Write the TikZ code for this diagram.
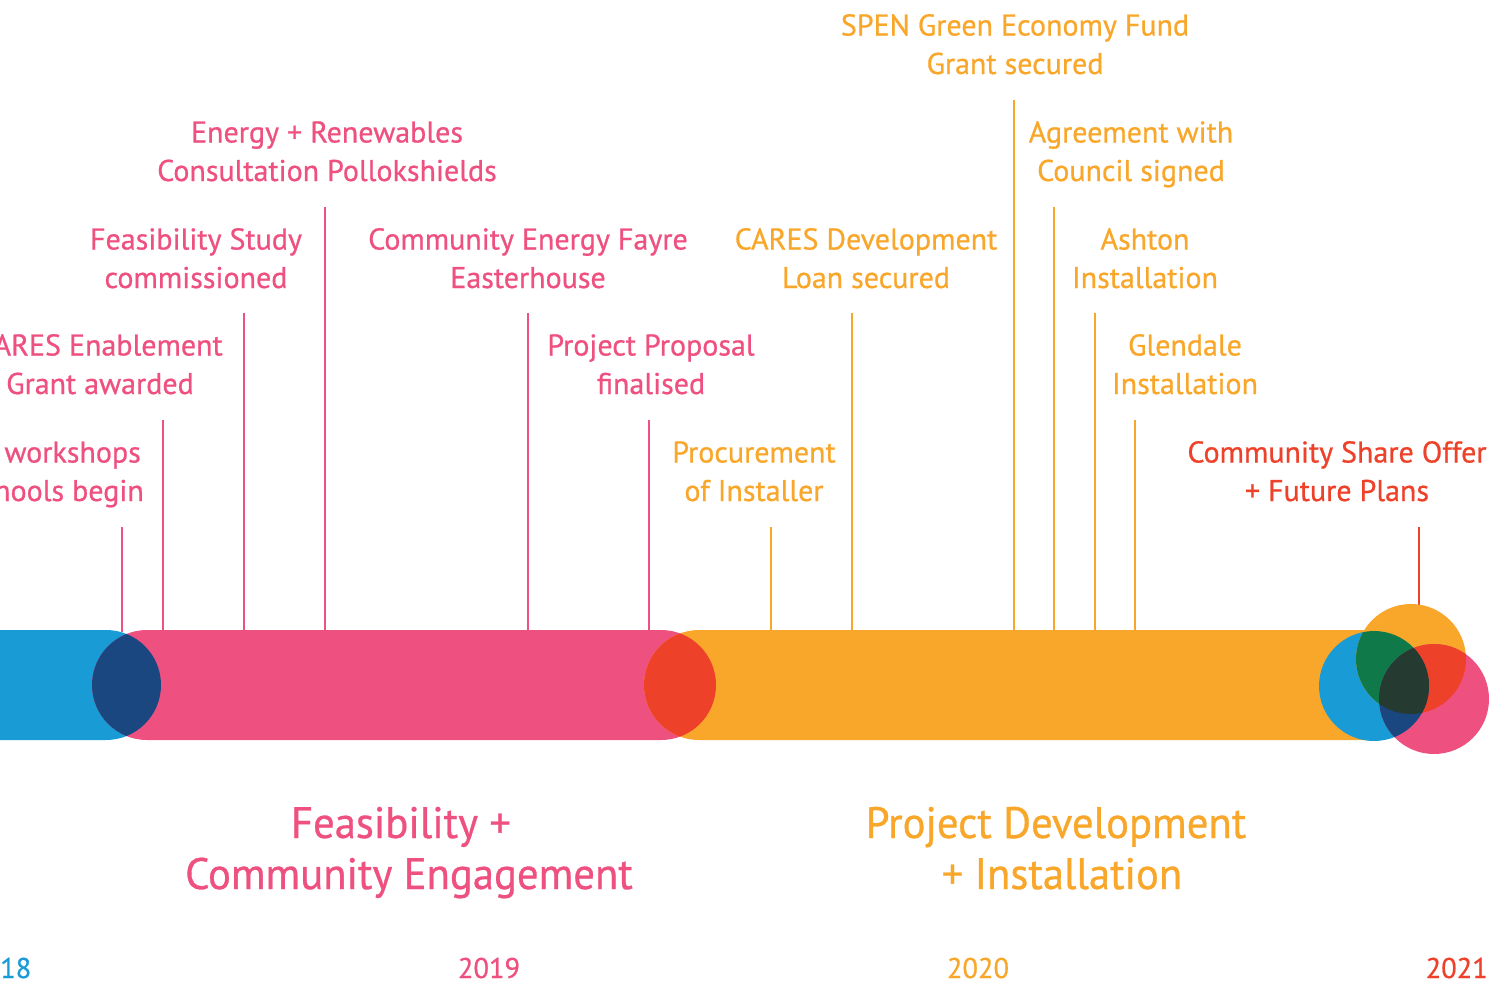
\documentclass[tikz,border=0pt]{standalone}
\usepackage{fontspec}
\setmainfont{PT Sans}
\newfontfamily\dinfont{PT Sans}[FakeBold=0.7]
\newfontfamily\dinbig{PT Sans}[FakeBold=0.7, FakeStretch=0.97]
\definecolor{cblue}{HTML}{199BD6}
\definecolor{cpink}{HTML}{EE5080}
\definecolor{corange}{HTML}{F9A72B}
\definecolor{cdblue}{HTML}{1A4780}
\definecolor{cred}{HTML}{EE4129}
\definecolor{cgreen}{HTML}{10794A}
\definecolor{cdark}{HTML}{253A31}
\tikzset{
  lbl/.style={anchor=base, inner sep=0pt, font=\dinfont\fontsize{30}{36}\selectfont},
  biglbl/.style={anchor=base, inner sep=0pt, font=\dinbig\fontsize{44}{52}\selectfont},
  yearlbl/.style={anchor=base, inner sep=0pt, font=\dinfont\fontsize{28.5}{34}\selectfont},
  stem/.style={line width=2.8pt},
}
\newcommand{\tlab}[6]{%
  \node[lbl, text=#4] (#1a) at (#2,#3) {#5};
  \node[lbl, text=#4] (#1b) at (#2,#3+38.5) {#6};
}
\begin{document}
\begin{tikzpicture}[x=1pt,y=-1pt]
\useasboundingbox (0,0) rectangle (1496,980);
% stems
\foreach \n/\x/\t/\c in {s1/122/527/cpink, s2/163/420/cpink, s3/244/313/cpink, s4/325/207/cpink,
  s5/528/313/cpink, s6/649/420/cpink, s7/771/527/corange, s8/852/313/corange,
  s9/1014/100/corange, s10/1054/207/corange, s11/1095/313/corange, s12/1135/420/corange} {
  \coordinate (\n t) at (\x,\t);
  \coordinate (\n b) at (\x,632);
  \draw[stem, \c] (\n t) -- (\n b);
}
\coordinate (s13t) at (1419,527);
\coordinate (s13b) at (1419,606);
\draw[stem, cred] (s13t) -- (s13b);
% bars
\def\bluebar{(-200,630) rectangle (161,740)}
\def\pinkbar{(92,630) rectangle (716,740)}
\def\orangebar{(644,630) rectangle (1429,740)}
\fill[cblue, rounded corners=55pt] \bluebar;
\fill[cpink, rounded corners=55pt] \pinkbar;
\fill[corange, rounded corners=55pt] \orangebar;
\begin{scope}
  \clip[rounded corners=55pt] \bluebar;
  \fill[cdblue, rounded corners=55pt] \pinkbar;
\end{scope}
\begin{scope}
  \clip[rounded corners=55pt] \pinkbar;
  \fill[cred, rounded corners=55pt] \orangebar;
\end{scope}
% circles
\coordinate (cB) at (1374,686);
\coordinate (cO) at (1411,659);
\coordinate (cP) at (1434,699);
\fill[cblue] (cB) circle[radius=55pt];
\fill[corange] (cO) circle[radius=55pt];
\fill[cpink] (cP) circle[radius=55pt];
\begin{scope}
  \clip (cB) circle[radius=55pt];
  \fill[cgreen] (cO) circle[radius=55pt];
\end{scope}
\begin{scope}
  \clip (cO) circle[radius=55pt];
  \fill[cred] (cP) circle[radius=55pt];
\end{scope}
\begin{scope}
  \clip (cB) circle[radius=55pt];
  \fill[cdblue] (cP) circle[radius=55pt];
\end{scope}
\begin{scope}
  \clip (cB) circle[radius=55pt];
  \clip (cO) circle[radius=55pt];
  \fill[cdark] (cP) circle[radius=55pt];
\end{scope}
% labels
\tlab{spen}{1015}{35.5}{corange}{SPEN Green Economy Fund}{Grant secured}
\tlab{ener}{327}{142.5}{cpink}{Energy + Renewables}{Consultation Pollokshields}
\tlab{agre}{1131}{142.5}{corange}{Agreement with}{Council signed}
\tlab{feas}{196}{249.5}{cpink}{Feasibility Study}{commissioned}
\tlab{fayr}{528}{249.5}{cpink}{Community Energy Fayre}{Easterhouse}
\tlab{cdev}{866}{249.5}{corange}{CARES Development}{Loan secured}
\tlab{asht}{1145}{249.5}{corange}{Ashton}{Installation}
\tlab{cena}{100}{355.5}{cpink}{CARES Enablement}{Grant awarded}
\tlab{prop}{651}{355.5}{cpink}{Project Proposal}{finalised}
\tlab{glen}{1185}{355.5}{corange}{Glendale}{Installation}
\tlab{proc}{754}{462.5}{corange}{Procurement}{of Installer}
\tlab{shar}{1337}{462.5}{cred}{Community Share Offer}{+ Future Plans}
\node[lbl, text=cpink, anchor=base east] (worka) at (141,462.5) {workshops};
\node[lbl, text=cpink, anchor=base east] (workb) at (144,501) {schools begin};
% phase labels
\node[biglbl, text=cpink] (ph1a) at (401,838) {Feasibility +};
\node[biglbl, text=cpink] (ph1b) at (409,889) {Community Engagement};
\node[biglbl, text=corange] (ph2a) at (1056,838) {Project Development};
\node[biglbl, text=corange] (ph2b) at (1062,889) {+ Installation};
% years
\node[yearlbl, text=cblue, anchor=base west] (y18) at (0,978) {18};
\node[yearlbl, text=cpink] (y19) at (489,978) {2019};
\node[yearlbl, text=corange] (y20) at (978,978) {2020};
\node[yearlbl, text=cred, anchor=base east] (y21) at (1488,978) {2021};
\end{tikzpicture}
\end{document}
